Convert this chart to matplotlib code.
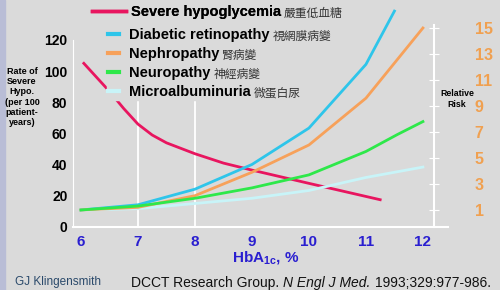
import matplotlib
matplotlib.use("Agg")
import matplotlib.pyplot as plt
from matplotlib.patches import Rectangle
from matplotlib.lines import Line2D

plt.rcParams['font.family'] = ['Liberation Sans', 'Noto Sans CJK TC', 'DejaVu Sans']
plt.rcParams['mathtext.fontset'] = 'custom'
plt.rcParams['mathtext.bf'] = 'Liberation Sans:bold'
plt.rcParams['mathtext.rm'] = 'Liberation Sans'

# data
hypo_x = [6.05, 6.25, 6.5, 6.75, 7, 7.25, 7.5, 8, 8.5, 9, 10, 11.25]
hypo_rate = [105, 97, 87, 76, 66, 59, 54, 47, 41, 36.5, 28, 17.5]

hba1c = [6, 7, 8, 9, 10, 11]
retinopathy = [1, 1.4, 2.6, 4.5, 7.3, 12.2]
retino_end = (11.5, 16.3)
nephro_x = [6, 7, 8, 9, 10, 11, 12]
nephropathy = [1, 1.2, 2.1, 3.9, 6.0, 9.6, 15.0]
neuro_x = [6, 7, 8, 9, 10, 11, 11.55, 12]
neuropathy = [1, 1.3, 1.9, 2.7, 3.7, 5.5, 6.8, 7.8]
micro_x = [6, 7, 8, 9, 10, 11, 12]
microalbuminuria = [1, 1.1, 1.5, 1.9, 2.5, 3.5, 4.3]

left_ticks = [0, 20, 40, 60, 80, 100, 120]
right_ticks = [1, 3, 5, 7, 9, 11, 13, 15]
x_ticks = [6, 7, 8, 9, 10, 11, 12]

bg = '#dadada'
c_hypo = '#e8155f'
c_retino = '#2ec5ea'
c_nephro = '#f7a15a'
c_neuro = '#2ee84a'
c_micro = '#c8f4f8'

W, H = 500, 290
fig = plt.figure(figsize=(5, 2.9), dpi=100, facecolor=bg)
fig.patches.append(Rectangle((0, 0), 5 / W, 1, transform=fig.transFigure,
                             color='#b9bdd6', zorder=0))

ax = fig.add_axes([73 / W, 63 / H, 375 / W, 202 / H])
ax.set_facecolor(bg)
ax.set_xlim(5.86, 12.44)
ax.set_ylim(0, 129.6)

ax2 = ax.twinx()
ax2.set_ylim(-0.31, 15.23)

for sp in ['top', 'right']:
    ax.spines[sp].set_visible(False)
ax.spines['left'].set_color('white')
ax.spines['left'].set_bounds(0, 120)
ax.spines['bottom'].set_color('white')
ax.spines['bottom'].set_linewidth(1.5)
for sp in ['top', 'left', 'bottom']:
    ax2.spines[sp].set_visible(False)
ax2.spines['right'].set_position(('data', 12.19))
ax2.spines['right'].set_color('white')
ax2.spines['right'].set_linewidth(1.5)

for gx in [7, 8]:
    ax.axvline(gx, ymax=120 / 129.6, color='white', lw=1.3, zorder=1)

ax.set_xticks(x_ticks)
ax.set_yticks(left_ticks)
ax.tick_params(axis='x', length=0, pad=6, labelsize=11, labelcolor='#2a1fd0')
ax.tick_params(axis='y', length=0, pad=4, labelsize=10, labelcolor='black')
for lab in ax.get_xticklabels() + ax.get_yticklabels():
    lab.set_fontweight('bold')

ax2.set_yticks(right_ticks)
ax2.tick_params(axis='y', direction='inout', length=7, color='white',
                pad=26, labelsize=11.5, labelcolor='#f0a050')
for lab in ax2.get_yticklabels():
    lab.set_fontweight('bold')

# lines
ax.plot(hypo_x, hypo_rate, color=c_hypo, lw=2, zorder=5)
ax2.plot(micro_x, microalbuminuria, color=c_micro, lw=2, zorder=3)
ax2.plot(hba1c + [retino_end[0]], retinopathy + [retino_end[1]],
         color=c_retino, lw=2, clip_on=False, zorder=3)
ax2.plot(nephro_x, nephropathy, color=c_nephro, lw=2, clip_on=False, zorder=3)
ax2.plot(neuro_x, neuropathy, color=c_neuro, lw=2, zorder=3)

# legends
leg1 = fig.legend([Line2D([], [], color=c_hypo, lw=2.5)], ['Severe hypoglycemia'],
                  loc='upper left', bbox_to_anchor=(92 / W, 1 - 5 / H),
                  frameon=False, handlelength=2.3, handletextpad=0.35,
                  borderpad=0, borderaxespad=0,
                  prop={'weight': 'bold', 'size': 10.5})
names = ['Diabetic retinopathy', 'Nephropathy', 'Neuropathy', 'Microalbuminuria']
cols = [c_retino, c_nephro, c_neuro, c_micro]
leg2 = fig.legend([Line2D([], [], color=c, lw=3) for c in cols], names,
                  loc='upper left', bbox_to_anchor=(107 / W, 1 - 27 / H),
                  frameon=True, facecolor=bg, edgecolor=bg, framealpha=1,
                  fancybox=False, handlelength=0.7, handletextpad=0.7,
                  labelspacing=0.33, borderpad=0.1, borderaxespad=0,
                  prop={'weight': 'bold', 'size': 10.5})
fig.add_artist(leg1)

# chinese names after each legend entry
fig.canvas.draw()
zh = ['嚴重低血糖', '視網膜病變', '腎病變', '神經病變', '微蛋白尿']
texts = leg1.get_texts() + leg2.get_texts()
for t, s in zip(texts, zh):
    bb = t.get_window_extent()
    fig.text((bb.x1 + 3) / W, (bb.y0 + bb.y1) / 2 / H - 1 / H, s,
             va='center', ha='left', fontsize=8.5, color='#333333',
             family=['Noto Sans CJK TC'], zorder=10)

# axis titles
fig.text(22 / W, 1 - 97 / H, 'Rate of\nSevere\nHypo.\n(per 100\npatient-\nyears)',
         ha='center', va='center', fontsize=6.5, fontweight='bold',
         linespacing=1.15)
fig.text(457 / W, 1 - 99 / H, 'Relative\nRisk', ha='center', va='center',
         fontsize=6.3, fontweight='bold', linespacing=1.15)
fig.text(266 / W, 1 - 258 / H, r'HbA$_{\mathbf{1c}}$, %', ha='center',
         va='center', fontsize=11, fontweight='bold', color='#2a1fd0')

# footer
fig.text(15 / W, 1 - 282 / H, 'GJ Klingensmith', ha='left', va='center',
         fontsize=8.5, color='#2b4a6b')
t1 = fig.text(131 / W, 1 - 287 / H, 'DCCT Research Group.', ha='left',
              va='baseline', fontsize=10, color='#111111')
fig.canvas.draw()
bb1 = t1.get_window_extent()
t2 = fig.text((bb1.x1 + 4) / W, 1 - 287 / H, 'N Engl J Med.', ha='left',
              va='baseline', fontsize=10, style='italic', color='#111111')
fig.canvas.draw()
bb2 = t2.get_window_extent()
fig.text((bb2.x1 + 4) / W, 1 - 287 / H, '1993;329:977-986.', ha='left',
         va='baseline', fontsize=10, color='#111111')

fig.savefig('out.png', dpi=100, facecolor=bg)
